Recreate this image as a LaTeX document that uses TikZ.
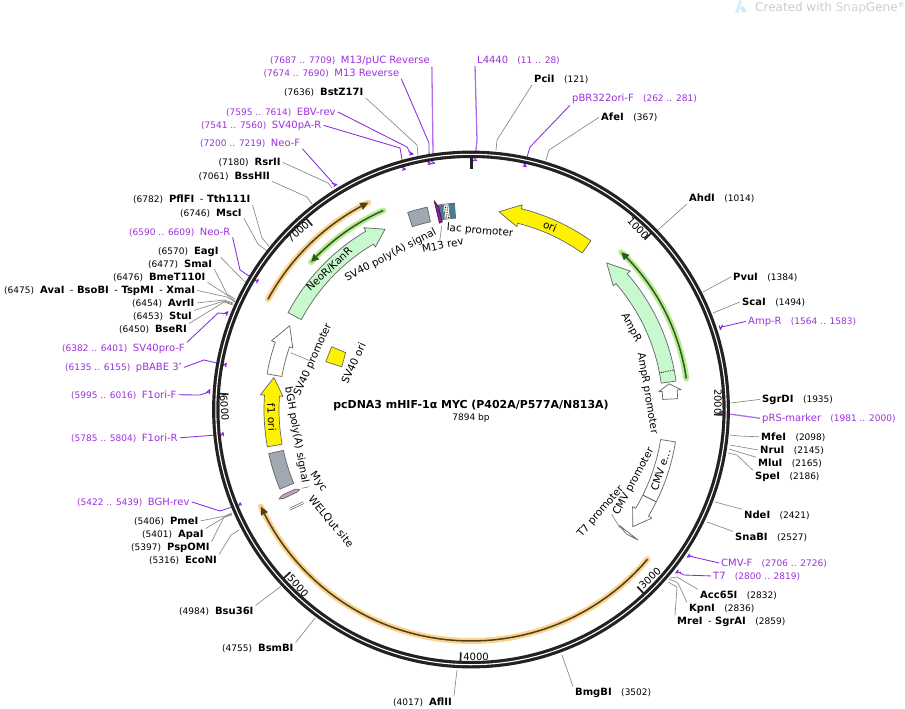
\documentclass[tikz,border=0pt]{standalone}
\usepackage{fontspec}
\setmainfont{DejaVu Sans}
\definecolor{pur}{RGB}{155,48,220}
\definecolor{purl}{RGB}{138,43,226}
\definecolor{purlight}{RGB}{178,110,232}
\definecolor{ringc}{RGB}{34,34,34}
\definecolor{enzc}{RGB}{135,135,135}
\definecolor{featc}{RGB}{100,100,100}
\definecolor{lgreen}{RGB}{200,248,205}
\definecolor{boxgray}{RGB}{160,168,178}
\definecolor{tealb}{RGB}{58,130,150}
\definecolor{pinkb}{RGB}{205,160,190}
\definecolor{orglow}{RGB}{248,212,145}
\definecolor{orcore}{RGB}{85,60,20}
\definecolor{grglow}{RGB}{185,235,150}
\definecolor{grcore}{RGB}{45,90,30}
\tikzset{
  lab/.style={anchor=base west,inner xsep=2pt,inner ysep=1pt,xshift=-2pt,yshift=-3.5pt,font=\fontsize{10}{12}\selectfont},
  plab/.style={lab,text=pur},
  enz/.style={draw=enzc,line width=0.65pt,line join=round},
  prim/.style={draw=purl,line width=0.85pt,line join=round},
  primthick/.style={draw=purlight,line width=1.3pt,line join=round},
  feat/.style={draw=featc,line width=0.7pt,line join=round},
  ftext/.style={font=\fontsize{10.4}{12}\selectfont,inner sep=0pt},
  tick/.style={draw=ringc,line width=1.7pt},
  ticktext/.style={font=\fontsize{10}{12}\selectfont,inner sep=0pt},
}
% text helpers
\newcommand\nm[1]{{\fontsize{9}{11}\selectfont #1}}
\newcommand\lf[2]{\nm{#1}\hspace{6pt}{\bfseries #2}}
\newcommand\rf[2]{{\bfseries #1}\hspace{9.5pt}\nm{#2}}
\newcommand\lp[2]{\nm{#1}\hspace{5.5pt}#2}
\newcommand\rp[2]{#1\hspace{9.2pt}\nm{#2}}
\newcommand\dsh{\hspace{5.5pt}{\mdseries -}\hspace{3.5pt}}
% label + leader helpers
\newcommand\lab[4]{\node[lab] (#1) at (#2,#3) {#4};}
\newcommand\plabl[4]{\node[plab] (#1) at (#2,#3) {#4};}
\newcommand\enzl[4]{\coordinate (e#1) at (#4); \draw[enz] (#1.#2) -- #3 (e#1);}
\newcommand\priml[4][prim]{\draw[#1] (#2.#3) -- #4 (h#2);}
% features (angles clockwise from the top)
\newcommand\farrow[4][]{\draw[feat,#1] plot[variable=\tta,domain=#2:#3,samples=25] (\tta-90:207) -- (#3-90:211) -- (#4-90:199.7) -- (#3-90:188.5) -- plot[variable=\tta,domain=#3:#2,samples=25] (\tta-90:192) -- cycle;}
\newcommand\fband[3][]{\draw[feat,#1] plot[variable=\tta,domain=#2:#3,samples=15] (\tta-90:207) -- plot[variable=\tta,domain=#3:#2,samples=15] (\tta-90:192) -- cycle;}
\newcommand\glowarc[6]{% glow, core, radius, a-from, a-headbase, a-tip
  \draw[#1,line width=6pt,line cap=round,line join=round] plot[variable=\tta,domain=#4:#6,samples=50] (\tta-90:#3);
  \draw[#2,line width=1.5pt] plot[variable=\tta,domain=#4:#5,samples=50] (\tta-90:#3);
  \fill[#2] (#6-90:#3) -- (#5-90:#3+4) -- (#5-90:#3-4) -- cycle;
}
\newcommand\phook[4]{% id a1 a2 r
  \coordinate (h#1) at (#2/2+#3/2-90:#4);
  \draw[prim,line width=1.1pt] (#2-90:#4) -- (#3-90:#4) -- (#3-0.8-90:#4+3.5);
}
\newcommand\ptick[3]{\draw[tick,line width=#3] (#1-90:252) -- (#1-90:#2);}
\begin{document}
\begin{tikzpicture}[x=1pt,y=-1pt]
\useasboundingbox (0,0) rectangle (905,709);
\fill[white] (0,0) rectangle (905,709);

% watermark
\fill[cyan!18!white] (735,13) -- (739.5,0.5) -- (742,0.5) -- (738.5,13) -- cycle;
\fill[cyan!22!white] (740,8) -- (743,6) -- (747,12) -- (743,12.5) -- cycle;
\node[inner sep=0pt,anchor=base west,font=\fontsize{12}{14}\selectfont,text=black!20] (wm) at (755,11.5) {Created with \textcolor{red!25!black!18}{Snap}Gene\raisebox{3.5pt}{\fontsize{7}{8}\selectfont ®}};

\begin{scope}[shift={(471,409.5)}]
% primer hooks
\phook{pa}{350.56}{351.57}{249}
\phook{pb}{349.96}{350.69}{249}
\phook{pc}{346.36}{347.23}{262}
\phook{pd}{343.9}{344.76}{249}
\phook{pe}{328.35}{329.2}{262}
\phook{pf}{300.5}{301.4}{249}
\phook{pg}{291}{291.9}{262}
\phook{ph}{279.8}{280.7}{249}
\phook{pi}{273.4}{274.35}{262}
\phook{pj}{263.8}{264.7}{249}
\phook{pk}{247.3}{248}{249}
\phook{pl}{0.5}{1.28}{249}
\phook{pm}{11.95}{12.8}{249}
\phook{pn}{71.3}{72.2}{262}
\phook{po}{90.3}{91.2}{249}
\phook{pp}{123.4}{124.3}{262}
\phook{pq}{127.7}{128.6}{262}
\end{scope}

% primer labels and leaders
\plabl{pa}{270}{60}{\lp{(7687 .. 7709)}{M13/pUC Reverse}}
\plabl{pb}{263.5}{73}{\lp{(7674 .. 7690)}{M13 Reverse}}
\plabl{pc}{226}{111.5}{\lp{(7595 .. 7614)}{EBV-rev}}
\plabl{pd}{201}{124.5}{\lp{(7541 .. 7560)}{SV40pA-R}}
\plabl{pe}{200}{143}{\lp{(7200 .. 7219)}{Neo-F}}
\plabl{pf}{129}{231.5}{\lp{(6590 .. 6609)}{Neo-R}}
\plabl{pg}{62}{347.5}{\lp{(6382 .. 6401)}{SV40pro-F}}
\plabl{ph}{65}{366.5}{\lp{(6135 .. 6155)}{pBABE 3'}}
\plabl{pi}{71}{394.5}{\lp{(5995 .. 6016)}{F1ori-F}}
\plabl{pj}{71}{437.5}{\lp{(5785 .. 5804)}{F1ori-R}}
\plabl{pk}{77}{501.5}{\lp{(5422 .. 5439)}{BGH-rev}}
\plabl{pl}{477}{60}{\rp{L4440}{(11 .. 28)}}
\plabl{pm}{572}{98.5}{\rp{pBR322ori-F}{(262 .. 281)}}
\plabl{pn}{748}{320.5}{\rp{Amp-R}{(1564 .. 1583)}}
\plabl{po}{762}{417.5}{\rp{pRS-marker}{(1981 .. 2000)}}
\plabl{pp}{721}{562.5}{\rp{CMV-F}{(2706 .. 2726)}}
\plabl{pq}{713}{575.5}{\rp{T7}{(2800 .. 2819)}}
\priml[primthick]{pa}{south east}{(433,153) --}
\priml{pb}{south east}{(429,143) --}
\priml{pc}{east}{(407,147) --}
\priml{pd}{east}{(400,148) --}
\priml{pe}{south east}{}
\priml{pf}{south east}{(240,270) --}
\priml{pg}{north east}{(218,313) --}
\priml{ph}{east}{(204,360) --}
\priml{pi}{east}{(200,395) --}
\priml{pj}{east}{}
\priml{pk}{east}{(220,511) --}
\priml[primthick]{pl}{south west}{(477,140) --}
\priml{pm}{south west}{(530,147) --}
\priml{pn}{west}{}
\priml[primthick]{po}{west}{}
\priml{pp}{west}{(693,557) --}
\priml{pq}{west}{(684,575) --}

% enzyme labels and leaders
\lab{ea}{284}{92}{\lf{(7636)}{BstZ17I}}
\lab{eb}{218.5}{162}{\lf{(7180)}{RsrII}}
\lab{ec}{198.5}{175.5}{\lf{(7061)}{BssHII}}
\lab{ed}{133}{199}{\lf{(6782)}{PflFI\dsh Tth111I}}
\lab{ee}{180}{212.5}{\lf{(6746)}{MscI}}
\lab{ef}{158}{250.5}{\lf{(6570)}{EagI}}
\lab{eg}{148}{263.5}{\lf{(6477)}{SmaI}}
\lab{eh}{113}{276.5}{\lf{(6476)}{BmeT110I}}
\lab{ei}{4}{289.5}{\lf{(6475)}{AvaI\dsh BsoBI\dsh TspMI\dsh XmaI}}
\lab{ej}{132}{302.5}{\lf{(6454)}{AvrII}}
\lab{ek}{133}{315.5}{\lf{(6453)}{StuI}}
\lab{el}{119}{328.5}{\lf{(6450)}{BseRI}}
\lab{em}{134}{520.5}{\lf{(5406)}{PmeI}}
\lab{en}{142}{533.5}{\lf{(5401)}{ApaI}}
\lab{eo}{131}{546.5}{\lf{(5397)}{PspOMI}}
\lab{ep}{149}{559.5}{\lf{(5316)}{EcoNI}}
\lab{eq}{179}{610.5}{\lf{(4984)}{Bsu36I}}
\lab{er}{222}{647.5}{\lf{(4755)}{BsmBI}}
\lab{es}{393}{701.5}{\lf{(4017)}{AflII}}
\lab{et}{534}{79}{\rf{PciI}{(121)}}
\lab{eu}{601}{117}{\rf{AfeI}{(367)}}
\lab{ev}{689}{198}{\rf{AhdI}{(1014)}}
\lab{ew}{733}{276.5}{\rf{PvuI}{(1384)}}
\lab{ex}{742}{301.5}{\rf{ScaI}{(1494)}}
\lab{ey}{762}{398.5}{\rf{SgrDI}{(1935)}}
\lab{ez}{761}{436.5}{\rf{MfeI}{(2098)}}
\lab{fa}{760}{449.5}{\rf{NruI}{(2145)}}
\lab{fb}{758}{462.5}{\rf{MluI}{(2165)}}
\lab{fc}{755}{475.5}{\rf{SpeI}{(2186)}}
\lab{fd}{744}{514.5}{\rf{NdeI}{(2421)}}
\lab{fe}{735}{536.5}{\rf{SnaBI}{(2527)}}
\lab{ff}{700}{594.5}{\rf{Acc65I}{(2832)}}
\lab{fg}{689}{607.5}{\rf{KpnI}{(2836)}}
\lab{fh}{677}{620.5}{\rf{MreI\dsh SgrAI}{(2859)}}
\lab{fi}{575}{691.5}{\rf{BmgBI}{(3502)}}

\enzl{ea}{south east}{(417,145) --}{418,155}
\enzl{eb}{east}{(328,183) --}{332,188}
\enzl{ec}{south east}{(307,197) --}{312,204}
\enzl{ed}{south east}{(262,238) --}{269,246}
\enzl{ee}{south east}{(258,244) --}{267,251}
\enzl{ef}{south east}{(244,281) --}{248,283}
\enzl{eg}{south east}{(227,294) --}{235,299}
\enzl{eh}{south east}{(227,295) --}{235,301}
\enzl{ei}{east}{(227,297) --}{235,302}
\enzl{ej}{east}{(224,300) --}{233,303}
\enzl{ek}{north east}{(224,301) --}{233,304}
\enzl{el}{north east}{(224,302) --}{233,305}
\enzl{em}{east}{(225,516) --}{232,513}
\enzl{en}{north east}{(225,517) --}{232,514}
\enzl{eo}{north east}{(224,517) --}{232,515}
\enzl{ep}{north east}{(231,535) --}{239,530}
\enzl{eq}{north east}{(280,587) --}{282,585}
\enzl{er}{north east}{}{315,618}
\enzl{es}{north east}{}{457,670}
\enzl{et}{south west}{(497,140) --}{496,150}
\enzl{eu}{west}{(549,150) --}{546,160}
\enzl{ev}{south west}{}{658,230}
\enzl{ew}{west}{}{703,292}
\enzl{ex}{west}{}{713,313}
\enzl{ey}{west}{}{731,403}
\enzl{ez}{west}{(739,436) --}{730,435}
\enzl{fa}{west}{}{730,445}
\enzl{fb}{north west}{}{729,449}
\enzl{fc}{north west}{(737,455) --}{728,453}
\enzl{fd}{north west}{}{715,502}
\enzl{fe}{north west}{}{707,522}
\enzl{ff}{north west}{(677,577) --}{670,578}
\enzl{fg}{north west}{(678,583) --}{669,579}
\enzl{fh}{north west}{(677,587) --}{668,582}
\enzl{fi}{north west}{}{562,655}

\begin{scope}[shift={(471,409.5)}]
% ring
\draw[ringc,line width=7.4pt] (0,0) circle[radius=255.2];
\draw[white,line width=1.1pt] (0,0) circle[radius=255.2];
% ticks
\ptick{0}{241}{3pt}
\ptick{45.6}{243}{1.7pt}
\ptick{91.2}{243}{1.7pt}
\ptick{136.8}{243}{1.7pt}
\ptick{182.4}{243}{1.7pt}
\ptick{228}{243}{1.7pt}
\ptick{273.6}{243}{1.7pt}
\ptick{319.2}{243}{1.7pt}
% highlighted arcs
\glowarc{orglow}{orcore}{231}{298.5}{331.6}{333.6}
\glowarc{grglow}{grcore}{217.5}{336.2}{314.7}{312.7}
\glowarc{grglow}{grcore}{217.5}{81.8}{45.7}{43.7}
\glowarc{orglow}{orcore}{231.5}{130.3}{243.2}{245.2}
% directional features
\farrow[fill=yellow]{35.4}{14.07}{8.07}
\farrow[fill=lgreen]{82.1}{49}{42.8}
\draw[black,densely dotted,line width=0.8pt] (79-90:192) -- (79-90:207);
\farrow[fill=white]{87}{84.6}{82.6}
\fband[fill=white]{99}{116.5}
\farrow[fill=white]{116.5}{121}{125.9}
\draw[feat,fill=white] (128-90:188) -- (128-90:212) -- (128.7-90:199) -- cycle;
\farrow[fill=yellow]{259.6}{274}{279.2}
\farrow[fill=white]{279.9}{289}{294.8}
\farrow[fill=lgreen]{297.9}{329.5}{334.5}
\fband[fill=boxgray]{247.4}{257.7}
\fband[fill=boxgray]{342.2}{347.8}
% Myc
\draw[feat,fill=pinkb] (245-90:189) -- (245.6-90:193) -- (245.6-90:207) -- (245-90:212) -- (244.6-90:207) -- (244.6-90:193) -- cycle;
% M13 rev, lac promoter and operator
\fband[fill=tealb]{350.6}{352}
\draw[feat,draw=purple!60!black,fill=purl!85!black] (350-90:212) -- (350.9-90:205) -- (351.3-90:190) -- (350.4-90:189) -- cycle;
\fband[fill=white]{352.3}{353.8}
\draw[black,densely dotted,line width=0.7pt] (352.8-90:193) -- (352.8-90:206);
\draw[black,densely dotted,line width=0.7pt] (353.3-90:193) -- (353.3-90:206);
\fband[fill=tealb]{354}{355.4}
\end{scope}

% WELQut site
\draw[feat,line width=0.55pt] (289.3,508.3) -- (303.3,501.7);
\draw[feat,line width=0.55pt] (289.8,510.2) -- (303.8,503.6);

% SV40 ori
\draw[feat,fill=yellow] (331.7,346.7) -- (345.7,352.7) -- (341.7,366.7) -- (325.7,361.7) -- cycle;

% tick labels
\node[ticktext,rotate=-45.6] (t1) at (638,228) {1000};
\node[ticktext,rotate=-90] (t2) at (718,402) {2000};
\node[ticktext,rotate=43] (t3) at (650,578) {3000};
\node[ticktext] (t4) at (476,656.5) {4000};
\node[ticktext,rotate=-48] (t5) at (298,586) {5000};
\node[ticktext,rotate=-86] (t6) at (224.5,408) {6000};
\node[ticktext,rotate=41] (t7) at (298,232) {7000};

% feature texts
\node[ftext,rotate=-22] (ori) at (550,226) {ori};
\node[ftext,rotate=-62] (ampr) at (631,327.5) {AmpR};
\node[ftext,rotate=-80.5] (amprp) at (647.3,393.3) {AmpR promoter};
\node[ftext,rotate=72] (cmve) at (660.7,470) {CMV e...};
\node[ftext,rotate=61.6] (cmvp) at (633.7,481.7) {CMV promoter};
\node[ftext,rotate=49] (t7p) at (600.7,511.7) {T7 promoter};
\node[ftext,rotate=-87] (f1) at (271.7,417.3) {f1 ori};
\node[ftext,rotate=66] (svp) at (313,360) {SV40 promoter};
\node[ftext,rotate=65] (svo) at (353.3,363.3) {SV40 ori};
\node[ftext,rotate=-80] (bgh) at (296.5,435) {bGH poly(A) signal};
\node[ftext,rotate=-54] (myc) at (318.3,481.7) {Myc};
\node[ftext,rotate=-50] (welq) at (330.7,521.7) {WELQut site};
\node[ftext,rotate=43] (neo) at (329.3,269.3) {NeoR/KanR};
\node[ftext,rotate=27.8] (svpa) at (390.7,255) {SV40 poly(A) signal};
\node[ftext,rotate=11.5] (m13r) at (442.7,245) {M13 rev};
\node[ftext,rotate=-5] (lacp) at (480,231) {lac promoter};

% feature leaders
\coordinate (cT7) at (620,528);
\coordinate (cSV) at (290.7,352.7);
\coordinate (cMyc) at (301.7,488.3);
\coordinate (cM13) at (441.7,225.7);
\draw[enz] (t7p.south) ++(7,-1) -- (cT7);
\draw[enz] (svp.south) ++(-7,-1) -- (cSV);
\draw[enz] (myc.south) ++(-5,2) -- (cMyc);
\draw[enz] (m13r.north) ++(-2,-1) -- (cM13);

% title
\node[inner sep=0pt,font=\bfseries\fontsize{10.95}{13}\selectfont] (title) at (471,405) {pcDNA3 mHIF-1α MYC (P402A/P577A/N813A)};
\node[inner sep=0pt,font=\fontsize{9}{11}\selectfont] (size) at (471,418) {7894 bp};
\end{tikzpicture}
\end{document}
